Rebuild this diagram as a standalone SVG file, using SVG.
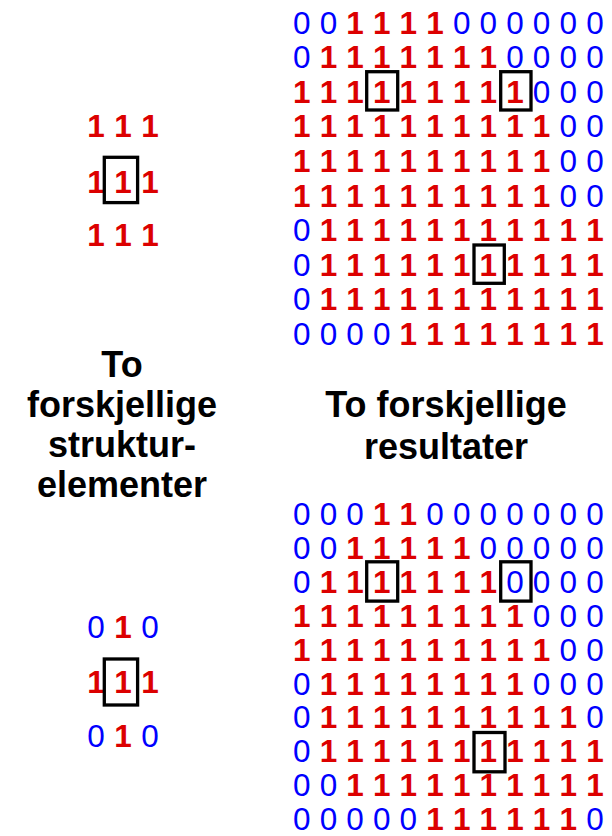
<svg xmlns="http://www.w3.org/2000/svg" width="612" height="836" viewBox="0 0 612 836">
<style>
text { font-family: "Liberation Sans", Arial, sans-serif; font-size: 31.5px; text-anchor: middle; }
.o { fill: #dc0000; font-weight: bold; }
.z { fill: #0000ff; }
.t { font-size: 36px; font-weight: bold; fill: #000; }
.box { fill: none; stroke: #000; stroke-width: 3.3; }
</style>
<rect width="612" height="836" fill="#fff"/>

<g id="se-square">
<text y="136.7"><tspan class="o" x="96 123 150">111</tspan></text>
<text y="193.3"><tspan class="o" x="96 123 150">111</tspan></text>
<text y="246"><tspan class="o" x="96 123 150">111</tspan></text>
<rect class="box" x="104.3" y="157.3" width="33.3" height="45.3"/>
</g>

<g id="se-cross">
<text y="638"><tspan class="z" x="96">0</tspan><tspan class="o" x="123">1</tspan><tspan class="z" x="150">0</tspan></text>
<text y="692.7"><tspan class="o" x="96 123 150">111</tspan></text>
<text y="746.7"><tspan class="z" x="96">0</tspan><tspan class="o" x="123">1</tspan><tspan class="z" x="150">0</tspan></text>
<rect class="box" x="104.3" y="659" width="33.3" height="46"/>
</g>

<g id="title-left">
<text class="t" x="122" y="376.7">To</text>
<text class="t" x="122" y="416.7">forskjellige</text>
<text class="t" x="122" y="456.7">struktur-</text>
<text class="t" x="122" y="496.7">elementer</text>
</g>

<g id="title-right">
<text class="t" x="446" y="416.7">To forskjellige</text>
<text class="t" x="446" y="459">resultater</text>
</g>

<g id="result-top">
<text y="33.5"><tspan class="z" x="301.7 328.4">00</tspan><tspan class="o" x="355 381.7 408.3 435">1111</tspan><tspan class="z" x="461.7 488.3 515 541.6 568.3 595">000000</tspan></text>
<text y="68.1"><tspan class="z" x="301.7">0</tspan><tspan class="o" x="328.4 355 381.7 408.3 435 461.7 488.3">1111111</tspan><tspan class="z" x="515 541.6 568.3 595">0000</tspan></text>
<text y="102.7"><tspan class="o" x="301.7 328.4 355 381.7 408.3 435 461.7 488.3 515">111111111</tspan><tspan class="z" x="541.6 568.3 595">000</tspan></text>
<text y="137.3"><tspan class="o" x="301.7 328.4 355 381.7 408.3 435 461.7 488.3 515 541.6">1111111111</tspan><tspan class="z" x="568.3 595">00</tspan></text>
<text y="171.9"><tspan class="o" x="301.7 328.4 355 381.7 408.3 435 461.7 488.3 515 541.6">1111111111</tspan><tspan class="z" x="568.3 595">00</tspan></text>
<text y="206.5"><tspan class="o" x="301.7 328.4 355 381.7 408.3 435 461.7 488.3 515 541.6">1111111111</tspan><tspan class="z" x="568.3 595">00</tspan></text>
<text y="241.1"><tspan class="z" x="301.7">0</tspan><tspan class="o" x="328.4 355 381.7 408.3 435 461.7 488.3 515 541.6 568.3 595">11111111111</tspan></text>
<text y="275.7"><tspan class="z" x="301.7">0</tspan><tspan class="o" x="328.4 355 381.7 408.3 435 461.7 488.3 515 541.6 568.3 595">11111111111</tspan></text>
<text y="310.3"><tspan class="z" x="301.7">0</tspan><tspan class="o" x="328.4 355 381.7 408.3 435 461.7 488.3 515 541.6 568.3 595">11111111111</tspan></text>
<text y="344.9"><tspan class="z" x="301.7 328.4 355 381.7">0000</tspan><tspan class="o" x="408.3 435 461.7 488.3 515 541.6 568.3 595">11111111</tspan></text>
<rect class="box" x="366.7" y="71.7" width="31" height="38.3"/>
<rect class="box" x="500.7" y="71.7" width="30.3" height="38.3"/>
<rect class="box" x="474" y="245" width="30.3" height="38.3"/>
</g>

<g id="result-bottom">
<text y="525"><tspan class="z" x="301.7 328.4 355">000</tspan><tspan class="o" x="381.7 408.3">11</tspan><tspan class="z" x="435 461.7 488.3 515 541.6 568.3 595">0000000</tspan></text>
<text y="558.9"><tspan class="z" x="301.7 328.4">00</tspan><tspan class="o" x="355 381.7 408.3 435 461.7">11111</tspan><tspan class="z" x="488.3 515 541.6 568.3 595">00000</tspan></text>
<text y="592.8"><tspan class="z" x="301.7">0</tspan><tspan class="o" x="328.4 355 381.7 408.3 435 461.7 488.3">1111111</tspan><tspan class="z" x="515 541.6 568.3 595">0000</tspan></text>
<text y="626.7"><tspan class="o" x="301.7 328.4 355 381.7 408.3 435 461.7 488.3 515">111111111</tspan><tspan class="z" x="541.6 568.3 595">000</tspan></text>
<text y="660.6"><tspan class="o" x="301.7 328.4 355 381.7 408.3 435 461.7 488.3 515 541.6">1111111111</tspan><tspan class="z" x="568.3 595">00</tspan></text>
<text y="694.5"><tspan class="z" x="301.7">0</tspan><tspan class="o" x="328.4 355 381.7 408.3 435 461.7 488.3 515">11111111</tspan><tspan class="z" x="541.6 568.3 595">000</tspan></text>
<text y="728.4"><tspan class="z" x="301.7">0</tspan><tspan class="o" x="328.4 355 381.7 408.3 435 461.7 488.3 515 541.6 568.3">1111111111</tspan><tspan class="z" x="595">0</tspan></text>
<text y="762.3"><tspan class="z" x="301.7">0</tspan><tspan class="o" x="328.4 355 381.7 408.3 435 461.7 488.3 515 541.6 568.3 595">11111111111</tspan></text>
<text y="796.2"><tspan class="z" x="301.7 328.4">00</tspan><tspan class="o" x="355 381.7 408.3 435 461.7 488.3 515 541.6 568.3 595">1111111111</tspan></text>
<text y="829.5"><tspan class="z" x="301.7 328.4 355 381.7 408.3">00000</tspan><tspan class="o" x="435 461.7 488.3 515 541.6 568.3">111111</tspan><tspan class="z" x="595">0</tspan></text>
<rect class="box" x="366.7" y="561.8" width="31" height="39.3"/>
<rect class="box" x="500.7" y="561.8" width="30.3" height="39.3"/>
<rect class="box" x="474" y="732.5" width="31" height="39.3"/>
</g>
</svg>
